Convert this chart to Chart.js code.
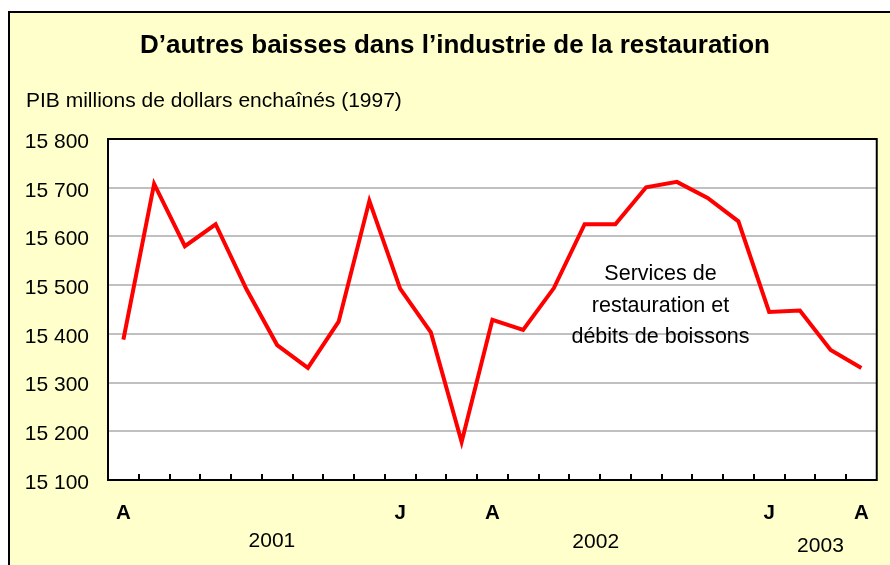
<!DOCTYPE html>
<html>
<head>
<meta charset="utf-8">
<script src="https://cdn.jsdelivr.net/npm/chart.js@4"></script>
<style>
  html, body { margin: 0; padding: 0; background: #ffffff; }
  #wrap { width: 890px; height: 565px; position: relative; }
  canvas { display: block; }
</style>
</head>
<body>
<div id="wrap"><canvas id="c" width="890" height="565"></canvas></div>
<script>
// ---- Data ----
const categories = [
  'avr. 2001','mai 2001','juin 2001','juil. 2001','août 2001','sept. 2001','oct. 2001','nov. 2001','déc. 2001',
  'janv. 2002','févr. 2002','mars 2002','avr. 2002','mai 2002','juin 2002','juil. 2002','août 2002','sept. 2002',
  'oct. 2002','nov. 2002','déc. 2002','janv. 2003','févr. 2003','mars 2003','avr. 2003'
];
const tickLabels = ['A','','','','','','','','','J','','','A','','','','','','','','','J','','','A'];
const restaurationValues = [
  15388, 15708, 15580, 15625, 15492, 15377, 15330, 15425, 15673,
  15493, 15403, 15178, 15429, 15408, 15494, 15625, 15625, 15701,
  15712, 15679, 15631, 15445, 15448, 15367, 15330
];
const yearLabels = ['2001', '2002', '2003'];
const seriesLabel = ['Services de', 'restauration et', 'débits de boissons'];
const titleText = 'D\u2019autres baisses dans l\u2019industrie de la restauration';
const unitText = 'PIB millions de dollars enchaînés (1997)';
const yMin = 15100, yMax = 15800, yStep = 100;

const FONT = '"Liberation Sans", Arial, sans-serif';

const decorPlugin = {
  id: 'decor',
  beforeDraw(chart) {
    const ctx = chart.ctx, a = chart.chartArea;
    ctx.save();
    ctx.fillStyle = '#ffffff';
    ctx.fillRect(0, 0, chart.width, chart.height);
    ctx.fillStyle = '#ffffcc';
    ctx.fillRect(9, 12, chart.width - 9, chart.height - 12);
    ctx.strokeStyle = '#000000';
    ctx.lineWidth = 2;
    ctx.beginPath();
    ctx.moveTo(9, chart.height);
    ctx.lineTo(9, 12);
    ctx.lineTo(chart.width, 12);
    ctx.stroke();
    ctx.fillStyle = '#ffffff';
    ctx.fillRect(a.left, a.top, a.right - a.left, a.bottom - a.top);
    ctx.restore();
  },
  afterDatasetsDraw(chart) {
    const ctx = chart.ctx, a = chart.chartArea, xs = chart.scales.x;
    ctx.save();
    // plot frame
    ctx.strokeStyle = '#000000';
    ctx.lineWidth = 2;
    ctx.strokeRect(a.left, a.top, a.right - a.left, a.bottom - a.top);
    // inner tick marks at category boundaries
    ctx.lineWidth = 2;
    ctx.beginPath();
    for (let i = 1; i < categories.length; i++) {
      const x = Math.round((xs.getPixelForValue(i - 1) + xs.getPixelForValue(i)) / 2);
      ctx.moveTo(x, a.bottom);
      ctx.lineTo(x, a.bottom - 6);
    }
    ctx.stroke();
    ctx.restore();
  },
  afterDraw(chart) {
    const ctx = chart.ctx, xs = chart.scales.x;
    ctx.save();
    ctx.fillStyle = '#000000';
    ctx.textBaseline = 'alphabetic';
    // title
    ctx.font = 'bold 26px ' + FONT;
    ctx.textAlign = 'center';
    ctx.fillText(titleText, 455, 53);
    // unit
    ctx.font = '21px ' + FONT;
    ctx.textAlign = 'left';
    ctx.fillText(unitText, 26, 107);
    // years
    ctx.textAlign = 'center';
    ctx.font = '21px ' + FONT;
    const yearPos = [[4.83, 547], [15.36, 548], [22.67, 552]];
    yearLabels.forEach((t, i) => {
      ctx.fillText(t, xs.getPixelForValue(yearPos[i][0]), yearPos[i][1]);
    });
    // series label
    ctx.font = '21.5px ' + FONT;
    const lineY = [280, 312, 343];
    seriesLabel.forEach((t, i) => ctx.fillText(t, 660.5, lineY[i]));
    ctx.restore();
  }
};

new Chart(document.getElementById('c'), {
  type: 'line',
  data: {
    labels: categories,
    datasets: [{
      label: seriesLabel.join(' '),
      data: restaurationValues,
      borderColor: '#ff0000',
      borderWidth: 4,
      pointRadius: 0,
      tension: 0,
      fill: false,
      borderJoinStyle: 'miter'
    }]
  },
  options: {
    responsive: false,
    animation: false,
    layout: { padding: { top: 139, left: 0, right: 11, bottom: 0 } },
    plugins: {
      legend: { display: false },
      tooltip: { enabled: false },
      title: { display: false }
    },
    scales: {
      x: {
        type: 'category',
        offset: true,
        grid: { display: false, drawTicks: false, offset: true },
        border: { display: false },
        ticks: {
          autoSkip: false,
          maxRotation: 0,
          minRotation: 0,
          padding: 21,
          color: '#000000',
          font: { family: FONT, size: 20.5, weight: 'bold' },
          callback: (v, i) => tickLabels[i]
        },
        afterFit(scale) { scale.height = 85; }
      },
      y: {
        min: yMin,
        max: yMax,
        grid: { color: '#c0c0c0', lineWidth: 2, drawTicks: false },
        border: { display: false },
        ticks: {
          stepSize: yStep,
          padding: 19,
          labelOffset: 3,
          color: '#000000',
          font: { family: FONT, size: 21 },
          callback: (v) => String(v).replace(/\B(?=(\d{3})+(?!\d))/g, ' ')
        },
        afterFit(scale) { scale.width = 108; }
      }
    }
  },
  plugins: [decorPlugin]
});
</script>
</body>
</html>
